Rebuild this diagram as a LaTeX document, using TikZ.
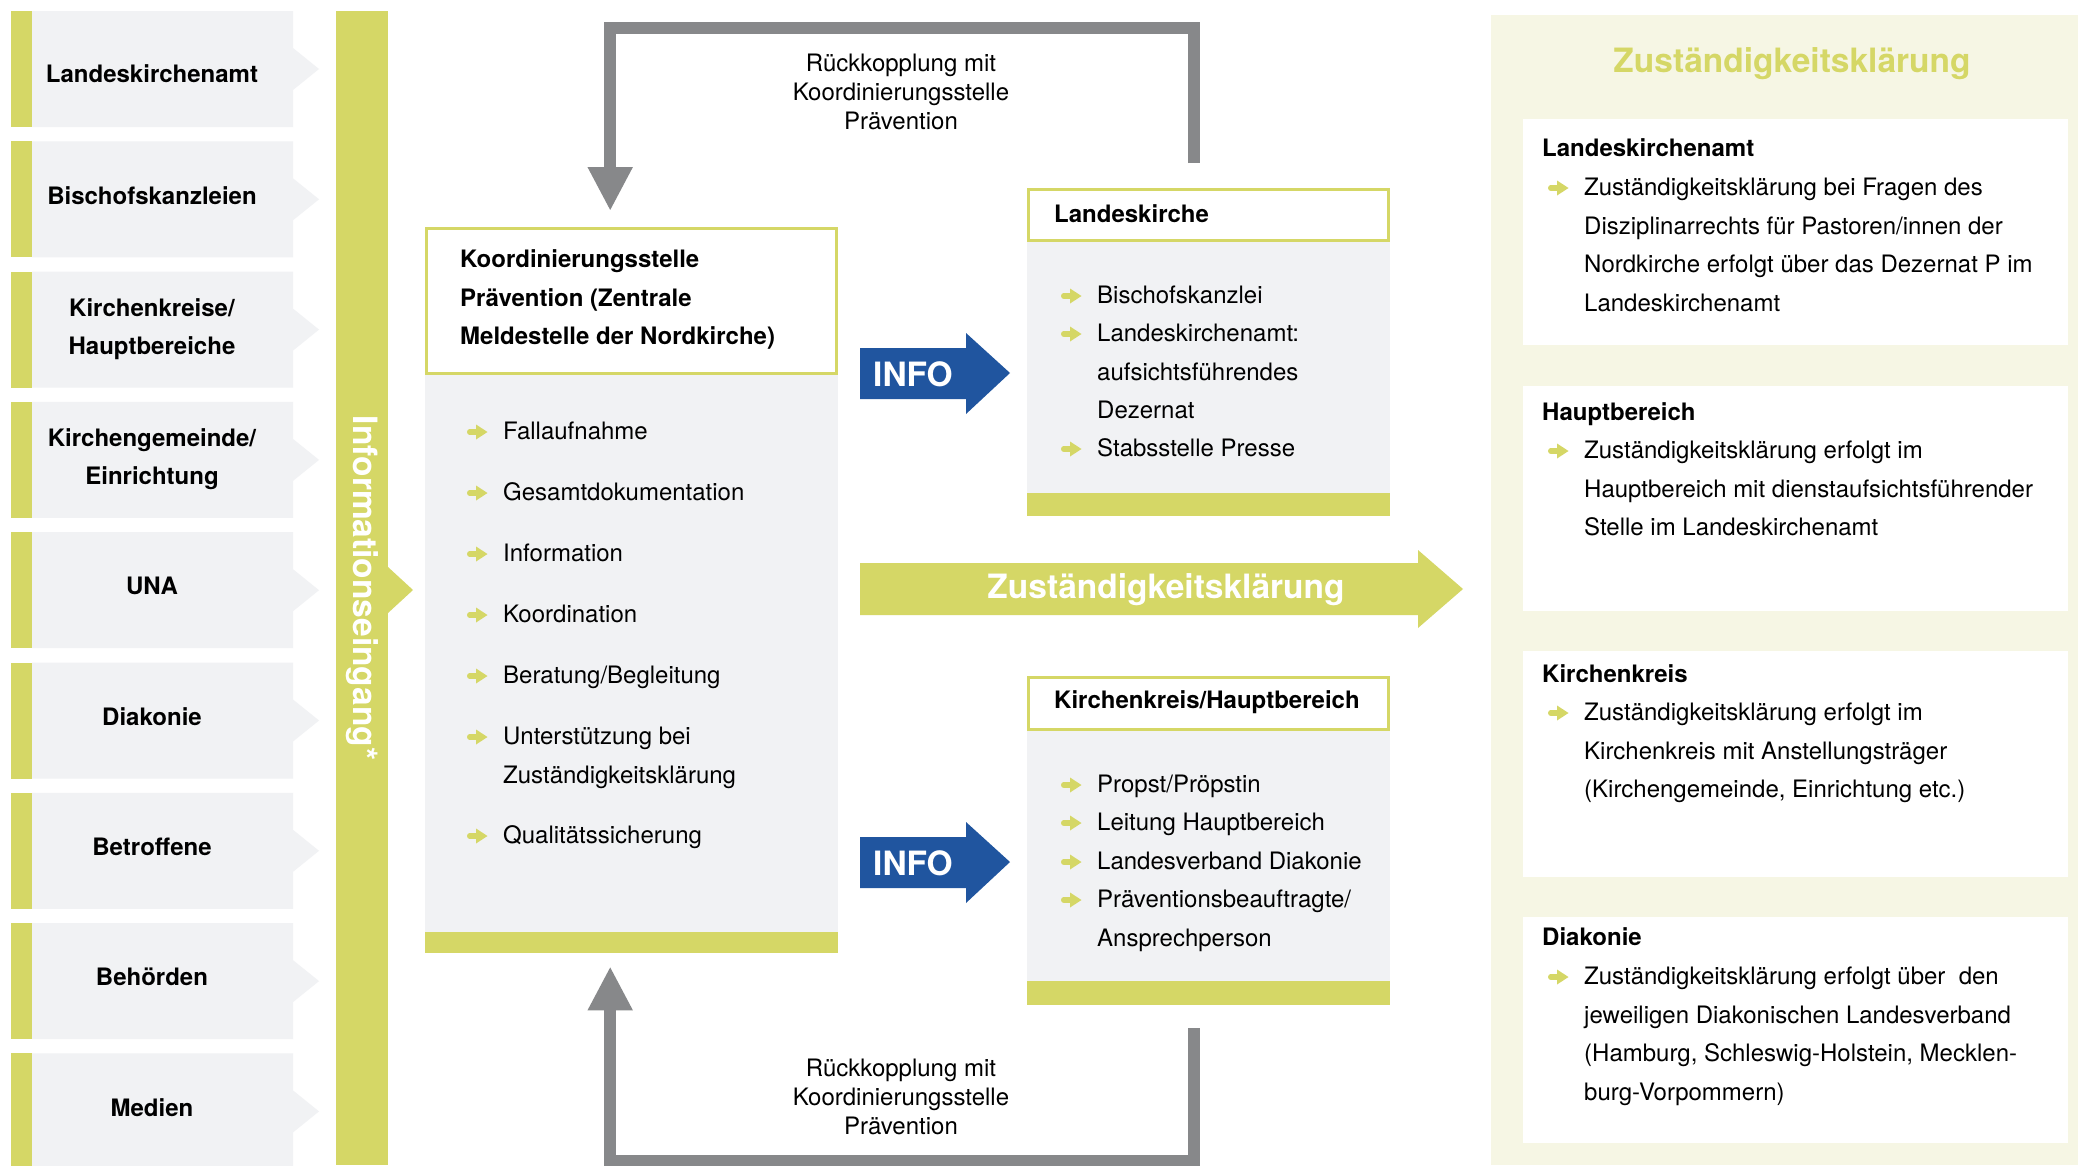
\documentclass[tikz,border=0pt]{standalone}
\usepackage{fontspec}
\setmainfont{TeX Gyre Heros}
\usetikzlibrary{arrows.meta}
\definecolor{grn}{HTML}{D5D766}
\definecolor{lgrey}{HTML}{F1F2F4}
\definecolor{blu}{HTML}{20559F}
\definecolor{dgrey}{HTML}{87888A}
\definecolor{cream}{HTML}{F6F6E4}
\tikzset{
  txt/.style={font=\fontsize{24}{38.5}\selectfont, anchor=north west, yshift=19.25pt, inner sep=0pt, align=left},
  txtb/.style={txt, font=\fontsize{24}{38.5}\selectfont\bfseries},
  srclbl/.style={font=\fontsize{24}{38.5}\selectfont\bfseries, align=center, inner sep=0pt},
  fbtxt/.style={font=\fontsize{24}{29}\selectfont, align=center, inner sep=0pt},
  bigtxt/.style={font=\fontsize{33.5}{33.5}\selectfont\bfseries, inner sep=0pt},
  infotxt/.style={font=\fontsize{33.5}{33.5}\selectfont\bfseries, text=white, inner sep=0pt},
  panel/.style={fill=lgrey, anchor=north west, inner sep=0pt},
  headframe/.style={draw=grn, line width=3pt, fill=white},
  fb/.style={draw=dgrey, line width=12pt, line join=miter, -{Triangle[width=42pt,length=44pt]}},
  bul/.pic={\draw[grn, line width=5.5pt, line cap=round] (2.75,0) -- (12,0);
            \fill[grn] (9,-7.5) -- (20.5,0) -- (9,7.5) -- cycle;}
}
\newcommand\srcbox[4]{%
  \fill[grn] (11,#2) rectangle (32,#2+116);
  \fill[lgrey] (32,#2) -- (293,#2) -- (293,#2+37) -- (319,#2+58) -- (293,#2+79) -- (293,#2+116) -- (32,#2+116) -- cycle;
  \node[srclbl] (#1) at (152,#2+58+#3) {#4};}
\begin{document}
\begin{tikzpicture}[x=1pt,y=-1pt]
\useasboundingbox (0,0) rectangle (2078,1165);
\fill[white] (0,0) rectangle (2078,1165);

% ---------- left sources ----------
\srcbox{s1}{11}{6}{\strut Landeskirchenamt}
\srcbox{s2}{141.3}{-3}{\strut Bischofskanzleien}
\srcbox{s3}{271.6}{-2}{\strut Kirchenkreise/\\\strut Hauptbereiche}
\srcbox{s4}{401.9}{-2}{\strut Kirchengemeinde/\\\strut Einrichtung}
\srcbox{s5}{532.2}{-3}{\strut UNA}
\srcbox{s6}{662.5}{-3}{\strut Diakonie}
\srcbox{s7}{792.8}{-3}{\strut Betroffene}
\srcbox{s8}{923.1}{-3}{\strut Behörden}
\srcbox{s9}{1053.4}{-3}{\strut Medien}

% ---------- Informationseingang bar ----------
\fill[grn] (336,11) rectangle (388,1165);
\fill[grn] (388,567) -- (413,590) -- (388,613) -- cycle;
\node[rotate=-90, text=white, font=\fontsize{33.5}{33.5}\selectfont\bfseries, inner sep=0pt] (ie) at (362,588) {Informationseingang*};

% ---------- Koordinierungsstelle ----------
\node[panel, minimum width=413pt, minimum height=726pt] (koordbox) at (425,227) {};
\draw[headframe] (426.5,228.5) rectangle (836.5,373.5);
\fill[grn] (425,932) rectangle (838,953);
\node[txtb] (kh) at (460,260) {\strut Koordinierungsstelle\\Prävention (Zentrale\\Meldestelle der Nordkirche)};
\foreach \yy/\nm/\tt in {432/k1/Fallaufnahme, 493/k2/Gesamtdokumentation, 554/k3/Information, 615/k4/Koordination, 676/k5/{Beratung/Begleitung}, 836/k7/Qualitätssicherung}{
  \pic at (467,\yy) {bul};
  \node[txt] (\nm) at (503,\yy) {\strut\tt};
}
\pic at (467,737) {bul};
\node[txt] (k6) at (503,737) {\strut Unterstützung bei\\Zuständigkeitsklärung};

% ---------- Landeskirche ----------
\node[panel, minimum width=363pt, minimum height=328pt] (lkbox) at (1027,188) {};
\draw[headframe] (1028.5,189.5) rectangle (1388.5,240.5);
\fill[grn] (1027,493) rectangle (1390,516);
\node[txtb] (lkh) at (1054,215) {\strut Landeskirche};
\pic at (1061,296) {bul};
\node[txt] (l1) at (1097,296) {\strut Bischofskanzlei};
\pic at (1061,334) {bul};
\node[txt] (l2) at (1097,334) {\strut Landeskirchenamt:\\aufsichtsführendes\\Dezernat};
\pic at (1061,449) {bul};
\node[txt] (l3) at (1097,449) {\strut Stabsstelle Presse};

% ---------- Kirchenkreis/Hauptbereich ----------
\node[panel, minimum width=363pt, minimum height=329pt] (kkbox) at (1027,676) {};
\draw[headframe] (1028.5,677.5) rectangle (1388.5,729.5);
\fill[grn] (1027,981) rectangle (1390,1005);
\node[txtb] (kkh) at (1054,701) {\strut Kirchenkreis/Hauptbereich};
\pic at (1061,785) {bul};
\node[txt] (m1) at (1097,785) {\strut Propst/Pröpstin};
\pic at (1061,823) {bul};
\node[txt] (m2) at (1097,823) {\strut Leitung Hauptbereich};
\pic at (1061,862) {bul};
\node[txt] (m3) at (1097,862) {\strut Landesverband Diakonie};
\pic at (1061,900) {bul};
\node[txt] (m4) at (1097,900) {\strut Präventionsbeauftragte/\\Ansprechperson};

% ---------- INFO arrows ----------
\fill[blu] (860,348) -- (966,348) -- (966,333) -- (1010,373) -- (966,414) -- (966,399) -- (860,399) -- cycle;
\node[infotxt] (info1) at (913,374) {INFO};
\fill[blu] (860,837) -- (966,837) -- (966,822) -- (1010,862) -- (966,903) -- (966,888) -- (860,888) -- cycle;
\node[infotxt] (info2) at (913,863) {INFO};

% ---------- Zustaendigkeit arrow ----------
\fill[grn] (860,563) -- (1418,563) -- (1418,550) -- (1463,589) -- (1418,628) -- (1418,615) -- (860,615) -- cycle;
\node[bigtxt, text=white] (zarrow) at (1166,590) {Zuständigkeitsklärung};

% ---------- feedback arrows ----------
\draw[fb] ([xshift=-14.5pt,yshift=25pt]lkbox.north) -- ++(0,-135) -| ([xshift=-21.5pt,yshift=16pt]koordbox.north);
\node[fbtxt] (fbt1) at (901,95) {\strut Rückkopplung mit\\Koordinierungsstelle\\\strut Prävention};
\draw[fb] ([xshift=-14.5pt,yshift=-23pt]kkbox.south) -- ++(0,133) -| ([xshift=-21.5pt,yshift=-13pt]koordbox.south);
\node[fbtxt] (fbt2) at (901,1100) {\strut Rückkopplung mit\\Koordinierungsstelle\\\strut Prävention};

% ---------- right panel ----------
\fill[cream] (1491,15) rectangle (2078,1165);
\node[bigtxt, text=grn] (ztitle) at (1792,64) {Zuständigkeitsklärung};
\fill[white] (1523,119) rectangle (2068,345);
\fill[white] (1523,386) rectangle (2068,611);
\fill[white] (1523,651) rectangle (2068,877);
\fill[white] (1523,917) rectangle (2068,1143);

\node[txtb] (r1h) at (1542,149) {\strut Landeskirchenamt};
\pic at (1548,188) {bul};
\node[txt] (r1) at (1584,188) {\strut Zuständigkeitsklärung bei Fragen des\\Disziplinarrechts für Pastoren/innen der\\Nordkirche erfolgt über das Dezernat P im\\Landeskirchenamt};

\node[txtb] (r2h) at (1542,413) {\strut Hauptbereich};
\pic at (1548,451) {bul};
\node[txt] (r2) at (1584,451) {\strut Zuständigkeitsklärung erfolgt im\\Hauptbereich mit dienstaufsichtsführender\\Stelle im Landeskirchenamt};

\node[txtb] (r3h) at (1542,675) {\strut Kirchenkreis};
\pic at (1548,713) {bul};
\node[txt] (r3) at (1584,713) {\strut Zuständigkeitsklärung erfolgt im\\Kirchenkreis mit Anstellungsträger\\(Kirchengemeinde, Einrichtung etc.)};

\node[txtb] (r4h) at (1542,938) {\strut Diakonie};
\pic at (1548,977) {bul};
\node[txt] (r4) at (1584,977) {\strut Zuständigkeitsklärung erfolgt über\ \ den\\jeweiligen Diakonischen Landesverband\\(Hamburg, Schleswig-Holstein, Mecklen-\\burg-Vorpommern)};
\end{tikzpicture}
\end{document}
